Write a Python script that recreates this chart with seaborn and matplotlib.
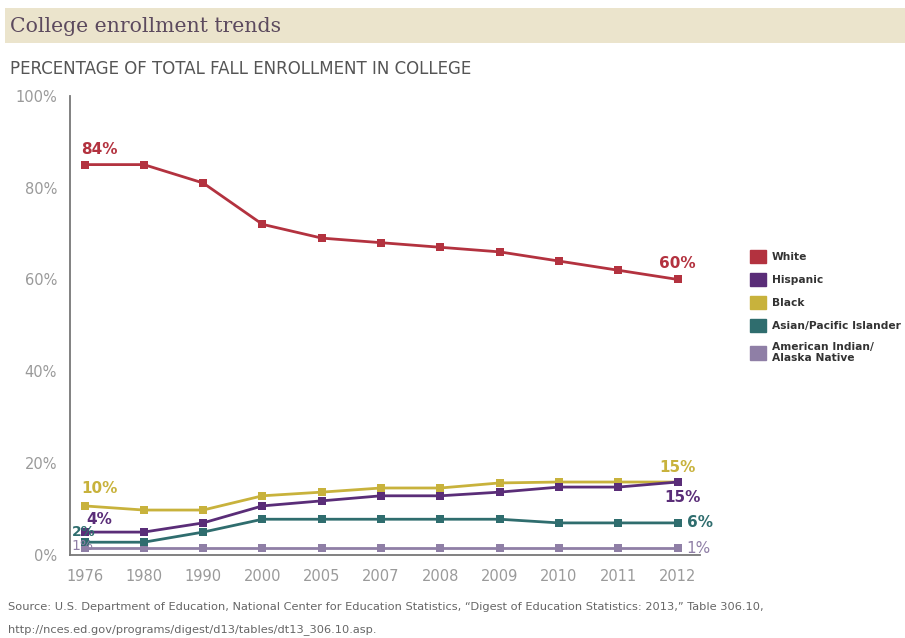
import matplotlib
matplotlib.use("Agg")
import matplotlib.pyplot as plt
import matplotlib.patches as mpatches
import seaborn as sns
import pandas as pd

# Data
years = ["1976", "1980", "1990", "2000", "2005", "2007", "2008", "2009", "2010", "2011", "2012"]
white = [85, 85, 81, 72, 69, 68, 67, 66, 64, 62, 60]
hispanic = [5, 5, 7, 10.7, 11.8, 12.9, 12.9, 13.7, 14.8, 14.8, 15.9]
black = [10.7, 9.8, 9.8, 12.9, 13.7, 14.6, 14.6, 15.7, 15.9, 15.9, 15.9]
asian = [2.8, 2.8, 5, 7.8, 7.8, 7.8, 7.8, 7.8, 7, 7, 7]
amind = [1.5, 1.5, 1.5, 1.5, 1.5, 1.5, 1.5, 1.5, 1.5, 1.5, 1.5]
groups = ["White", "Hispanic", "Black", "Asian/Pacific Islander", "American Indian/\nAlaska Native"]
colors = ["#b3323f", "#5a2d78", "#c8b23c", "#2f6d6e", "#8f7fa6"]

series = [white, hispanic, black, asian, amind]
rows = []
for g, vals in zip(groups, series):
    for i, v in enumerate(vals):
        rows.append({"pos": i, "year": years[i], "group": g, "value": v})
df = pd.DataFrame(rows)

sns.set_style("white")
plt.rcParams["font.family"] = ["DejaVu Sans"]

fig = plt.figure(figsize=(9.05, 6.38), dpi=100)
ax = fig.add_axes([0.077, 0.130, 0.696, 0.720])

# draw American Indian first so others are on top
order = groups[::-1]
pal = dict(zip(groups, colors))
for g in order:
    sub = df[df["group"] == g]
    sns.lineplot(data=sub, x="pos", y="value", color=pal[g], marker="s",
                 markersize=6, markeredgewidth=0, linewidth=2.0, ax=ax, legend=False)

ax.set_xlim(-0.25, 10.37)
ax.set_ylim(0, 100)
ax.set_xticks(range(len(years)))
ax.set_xticklabels(years)
ax.set_yticks([0, 20, 40, 60, 80, 100])
ax.set_yticklabels(["0%", "20%", "40%", "60%", "80%", "100%"])
ax.tick_params(axis="both", colors="#9a9a9a", labelsize=10.5, length=0)
ax.tick_params(axis="x", pad=10)
ax.tick_params(axis="y", pad=9)
ax.set_xlabel("")
ax.set_ylabel("")
for s in ["top", "right"]:
    ax.spines[s].set_visible(False)
for s in ["left", "bottom"]:
    ax.spines[s].set_color("#777777")
    ax.spines[s].set_linewidth(1.3)

# value labels
lab = dict(fontsize=11, fontweight="bold", zorder=6)
ax.text(0.25, 88.2, "84%", color=colors[0], ha="center", va="center", **lab)
ax.text(10, white[-1] + 3.4, "60%", color=colors[0], ha="center", va="center", **lab)
ax.text(0.25, 14.4, "10%", color=colors[2], ha="center", va="center", **lab)
ax.text(0.25, 7.8, "4%", color=colors[1], ha="center", va="center", **lab)
ax.text(-0.22, 5.1, "2%", color=colors[3], ha="left", va="center",
        fontsize=10, fontweight="bold", zorder=6)
ax.text(-0.22, 1.9, "1%", color=colors[4], ha="left", va="center", fontsize=10, zorder=6)
ax.text(10, 19.0, "15%", color=colors[2], ha="center", va="center", **lab)
ax.text(10.08, 12.6, "15%", color=colors[1], ha="center", va="center", **lab)
ax.text(10.15, asian[-1], "6%", color=colors[3], ha="left", va="center", **lab)
ax.text(10.15, amind[-1], "1%", color=colors[4], ha="left", va="center", fontsize=11)

# legend
handles = [mpatches.Patch(color=c, label=g) for g, c in zip(groups, colors)]
leg = fig.legend(handles=handles, loc="upper left", bbox_to_anchor=(0.818, 0.624),
                 frameon=False, handlelength=1.55, handleheight=1.55,
                 handletextpad=0.5, labelspacing=0.9,
                 prop={"size": 7.7, "weight": "bold"})
for t in leg.get_texts():
    t.set_color("#333333")

# title band
fig.patches.append(mpatches.Rectangle((0.005, 0.932), 0.995, 0.056,
                                      transform=fig.transFigure,
                                      facecolor="#ebe4cc", edgecolor="none", zorder=0))
fig.text(0.011, 0.959, "College enrollment trends", fontsize=14.7, color="#5c4a5e",
         family=["DejaVu Serif"], va="center", ha="left")
fig.text(0.011, 0.892, "PERCENTAGE OF TOTAL FALL ENROLLMENT IN COLLEGE",
         fontsize=12, color="#555555", va="center", ha="left")

fig.text(0.009, 0.049,
         "Source: U.S. Department of Education, National Center for Education Statistics, "
         "\u201cDigest of Education Statistics: 2013,\u201d Table 306.10,",
         fontsize=8.2, color="#666666", va="center", ha="left")
fig.text(0.009, 0.013, "http://nces.ed.gov/programs/digest/d13/tables/dt13_306.10.asp.",
         fontsize=8.2, color="#666666", va="center", ha="left")

fig.savefig("out.png", dpi=100, facecolor="white")
